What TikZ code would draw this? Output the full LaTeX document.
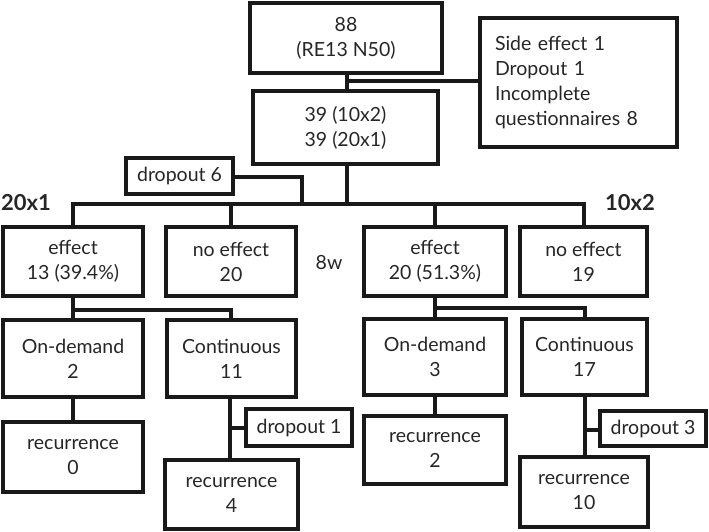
\documentclass[tikz,border=0pt]{standalone}
\usepackage{fontspec}
\setmainfont{Lato}
\begin{document}
\begin{tikzpicture}[x=1pt,y=-1pt,
  every path/.style={line width=3.2pt,color=black!90},
  box/.style={draw,line width=3.2pt,inner sep=0pt,outer sep=0pt,align=center,
    font=\fontsize{19.5}{25}\selectfont,text=black!85},
  lbl/.style={inner sep=0pt,font=\fontsize{19.5}{25}\selectfont,text=black!85},
  grp/.style={inner sep=0pt,font=\fontsize{22}{25}\selectfont\bfseries,text=black!85}]
\useasboundingbox (0,0) rectangle (709,531);
% boxes
\node[box,minimum width=192pt,minimum height=70pt] (top) at (346,38) {88\\(RE13 N50)};
\node[box,minimum width=197pt,minimum height=129pt,text width=167pt,inner xsep=15pt,align=left] (side) at (578.5,82.5) {Side effect 1\\Dropout 1\\Incomplete\\questionnaires 8};
\node[box,minimum width=185pt,minimum height=73pt] (mid) at (345.5,127.5) {39 (10x2)\\39 (20x1)};
\node[box,minimum width=107pt,minimum height=36pt] (dropsix) at (179.5,176) {dropout 6};
\node[box,minimum width=140pt,minimum height=69pt] (effL) at (73,261.5) {effect\\13 (39.4\%)};
\node[box,minimum width=130pt,minimum height=69pt] (noeffL) at (231,261.5) {no effect\\20};
\node[box,minimum width=142pt,minimum height=69pt] (effR) at (435,261.5) {effect\\20 (51.3\%)};
\node[box,minimum width=127pt,minimum height=69pt] (noeffR) at (583.5,261.5) {no effect\\19};
\node[box,minimum width=140pt,minimum height=77pt] (odL) at (73,358.5) {On-demand\\2};
\node[box,minimum width=129pt,minimum height=77pt] (coL) at (231.5,358.5) {Continuous\\11};
\node[box,minimum width=142pt,minimum height=76pt] (odR) at (435,357) {On-demand\\3};
\node[box,minimum width=125pt,minimum height=76pt] (coR) at (584.5,357) {Continuous\\17};
\node[box,minimum width=140pt,minimum height=70pt] (recz) at (73,457) {recurrence\\0};
\node[box,minimum width=106pt,minimum height=37pt] (dropone) at (299,427.5) {dropout 1};
\node[box,minimum width=133pt,minimum height=69pt] (recf) at (231.5,494.5) {recurrence\\4};
\node[box,minimum width=142pt,minimum height=68pt] (rect) at (435,450) {recurrence\\2};
\node[box,minimum width=106pt,minimum height=35pt] (dropthree) at (653,428.5) {dropout 3};
\node[box,minimum width=128pt,minimum height=70pt] (recten) at (584,492) {recurrence\\10};
% labels
\node[grp] (gL) at (26,203) {20x1};
\node[grp] (gR) at (630,203) {10x2};
\node[lbl] (wk) at (329,263) {8w};
% connectors
\coordinate (j1) at (347,81);
\coordinate (bus) at (347,204);
\draw (347,73) -- (347,91);
\draw (j1) -- (j1 -| side.west);
\draw (347,164) -- (bus);
\draw (73,227) |- (584,204) -- (584,227);
\draw (231,204) -- (231,227);
\draw (435,204) -- (435,227);
\draw (dropsix.east |- 0,177) -| (302,204);
% left branch
\draw (73,296) -- (73,320);
\draw (73,310) -| (231,320);
\draw (73,397) -- (73,422);
\draw (230,397) -- (230,460);
\draw (230,428) -- (dropone.west |- 0,428);
% right branch
\draw (435,296) -- (435,319);
\draw (435,308) -| (585,319);
\draw (435,395) -- (435,416);
\draw (585,395) -- (585,457);
\draw (585,430) -- (dropthree.west |- 0,430);
\end{tikzpicture}
\end{document}
